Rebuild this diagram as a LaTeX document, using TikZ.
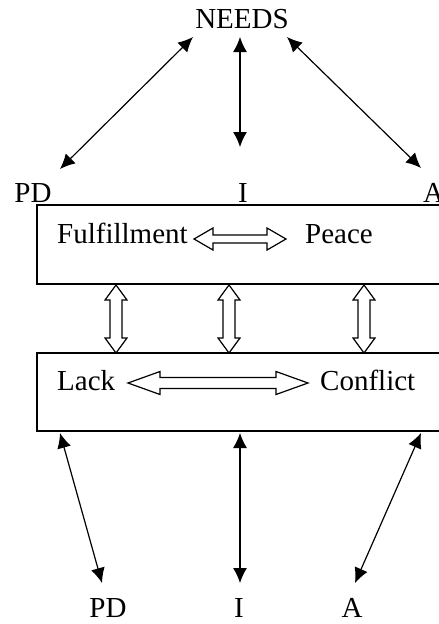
\documentclass[tikz,border=0pt]{standalone}
\usepackage{fontspec}
\setmainfont{Liberation Serif}
\usetikzlibrary{arrows.meta}
\newcommand\harrow[6]{% x1 y x2 halfshaft halfhead headlen
  \draw[blockarrow] (#1,#2) -- ({#1+#6},{#2-#5}) -- ({#1+#6},{#2-#4}) -- ({#3-#6},{#2-#4}) -- ({#3-#6},{#2-#5}) -- (#3,#2) -- ({#3-#6},{#2+#5}) -- ({#3-#6},{#2+#4}) -- ({#1+#6},{#2+#4}) -- ({#1+#6},{#2+#5}) -- cycle;}
\newcommand\varrow[6]{% x y1 y2 halfshaft halfhead headlen
  \draw[blockarrow] (#1,#2) -- ({#1-#5},{#2+#6}) -- ({#1-#4},{#2+#6}) -- ({#1-#4},{#3-#6}) -- ({#1-#5},{#3-#6}) -- (#1,#3) -- ({#1+#5},{#3-#6}) -- ({#1+#4},{#3-#6}) -- ({#1+#4},{#2+#6}) -- ({#1+#5},{#2+#6}) -- cycle;}
\begin{document}
\begin{tikzpicture}[x=1pt,y=-1pt,
  lbl/.style={inner sep=0pt,anchor=base,font=\fontsize{29}{31}\selectfont},
  boxstyle/.style={draw,line width=1.3pt},
  thinarrow/.style={line width=1.2pt,{Latex[length=15pt,width=14pt]}-{Latex[length=15pt,width=14pt]}},
  blockarrow/.style={draw,line width=1.2pt,fill=white,line join=miter}]
\useasboundingbox (0,0) rectangle (439,624);
\begin{scope}
\clip (0,0) rectangle (439,624);
% labels
\node[lbl] (needs) at (242,28) {NEEDS};
\node[lbl] (pdT) at (33,202) {PD};
\node[lbl] (iT) at (243,202) {I};
\node[lbl,anchor=base west] (aT) at (423,202) {A};
% boxes
\draw[boxstyle] (37,205) rectangle (460,284);
\draw[boxstyle] (37,353) rectangle (460,431);
\node[lbl,anchor=base west] (ful) at (57,243) {Fulfillment};
\node[lbl,anchor=base west] (peace) at (305,243) {Peace};
\node[lbl,anchor=base west] (lack) at (57,390) {Lack};
\node[lbl,anchor=base west] (conflict) at (320,390) {Conflict};
\node[lbl] (pdB) at (108,617) {PD};
\node[lbl] (iB) at (239,617) {I};
\node[lbl] (aB) at (352,617) {A};
% thin arrows top
\coordinate (n1) at (193,37);
\coordinate (n2) at (240,37);
\coordinate (n3) at (287,37);
\coordinate (p1) at (60,169);
\coordinate (p2) at (240,147);
\coordinate (p3) at (421,168);
\draw[thinarrow] (n1) -- (p1);
\draw[thinarrow] (n2) -- (p2);
\draw[thinarrow] (n3) -- (p3);
% thin arrows bottom
\coordinate (b1) at (60,433);
\coordinate (b2) at (240,433);
\coordinate (b3) at (421,433);
\coordinate (q1) at (102,583);
\coordinate (q2) at (240,583);
\coordinate (q3) at (355,583);
\draw[thinarrow] (b1) -- (q1);
\draw[thinarrow] (b2) -- (q2);
\draw[thinarrow] (b3) -- (q3);
% block arrows
\harrow{194}{239}{286}{4}{11}{19}
\harrow{128}{383}{308}{5.5}{11.5}{32}
\varrow{116}{285}{353}{6}{11}{15}
\varrow{229}{285}{353}{6}{11}{15}
\varrow{364}{285}{353}{6}{11}{15}
\end{scope}
\end{tikzpicture}
\end{document}
